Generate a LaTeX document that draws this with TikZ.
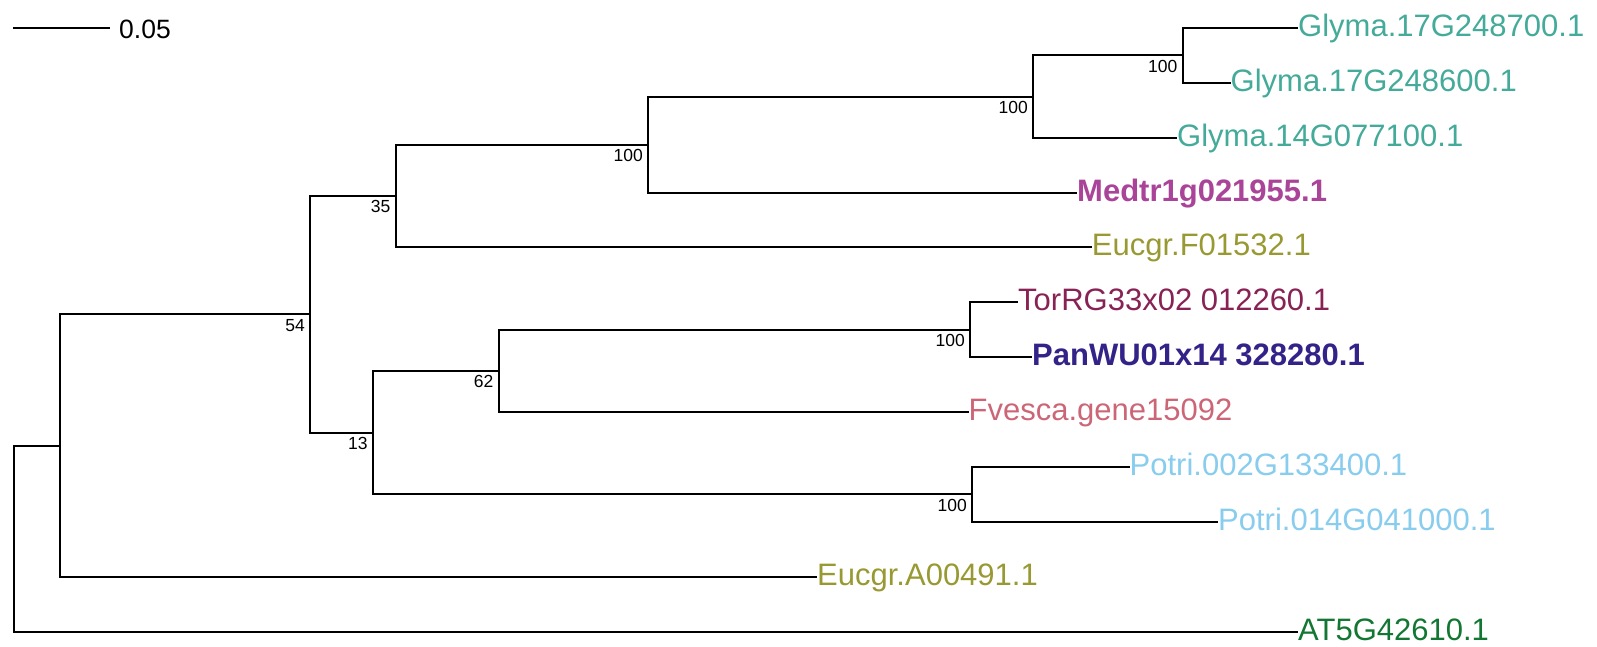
\documentclass[tikz,border=0pt]{standalone}
\usepackage{fontspec}
\setmainfont{Liberation Sans}
\definecolor{cteal}{HTML}{44AA99}
\definecolor{cpurple}{HTML}{AA4499}
\definecolor{colive}{HTML}{999933}
\definecolor{cwine}{HTML}{882255}
\definecolor{cindigo}{HTML}{332288}
\definecolor{crose}{HTML}{CC6677}
\definecolor{ccyan}{HTML}{88CCEE}
\definecolor{cgreen}{HTML}{117733}
\tikzset{
  branch/.style={line width=2pt, line join=miter},
  leaf/.style={anchor=base west, inner sep=0pt, yshift=-8.5pt, font=\fontsize{31}{31}\selectfont},
  boot/.style={anchor=north east, inner sep=0pt, xshift=-5pt, yshift=-4.5pt, font=\fontsize{17.5}{17.5}\selectfont},
}
\begin{document}
\begin{tikzpicture}[x=1pt,y=-1pt]
\useasboundingbox (0,0) rectangle (1597,647);
% internal nodes
\coordinate (R) at (14.3,538.5);
\coordinate (J) at (60,445.5);
\coordinate (I) at (310,314.3);
\coordinate (D) at (395.5,196);
\coordinate (C) at (648,144.6);
\coordinate (B) at (1033,96.6);
\coordinate (A) at (1182.5,55.4);
\coordinate (H) at (372.7,432.6);
\coordinate (F) at (498.5,370.9);
\coordinate (E) at (970,329.7);
\coordinate (G) at (972,494.3);
% leaf tips
\coordinate (t1) at (1298,28);
\coordinate (t2) at (1230.5,82.9);
\coordinate (t3) at (1177,137.7);
\coordinate (t4) at (1077,192.6);
\coordinate (t5) at (1091.7,247.4);
\coordinate (t6) at (1018,302.3);
\coordinate (t7) at (1032,357.2);
\coordinate (t8) at (968.5,412);
\coordinate (t9) at (1129.5,466.9);
\coordinate (t10) at (1218,521.7);
\coordinate (t11) at (817,576.6);
\coordinate (t12) at (1298,631.5);
% leaf labels
\node[leaf, text=cteal] (n1) at (t1) {Glyma.17G248700.1};
\node[leaf, text=cteal] (n2) at (t2) {Glyma.17G248600.1};
\node[leaf, text=cteal] (n3) at (t3) {Glyma.14G077100.1};
\node[leaf, text=cpurple, font=\fontsize{31}{31}\selectfont\bfseries] (n4) at (t4) {Medtr1g021955.1};
\node[leaf, text=colive] (n5) at (t5) {Eucgr.F01532.1};
\node[leaf, text=cwine] (n6) at (t6) {TorRG33x02 012260.1};
\node[leaf, text=cindigo, font=\fontsize{31}{31}\selectfont\bfseries] (n7) at (t7) {PanWU01x14 328280.1};
\node[leaf, text=crose] (n8) at (t8) {Fvesca.gene15092};
\node[leaf, text=ccyan] (n9) at (t9) {Potri.002G133400.1};
\node[leaf, text=ccyan] (n10) at (t10) {Potri.014G041000.1};
\node[leaf, text=colive] (n11) at (t11) {Eucgr.A00491.1};
\node[leaf, text=cgreen] (n12) at (t12) {AT5G42610.1};
% branches
\draw[branch] (R) |- (J);
\draw[branch] (R) |- (t12);
\draw[branch] (J) |- (I);
\draw[branch] (J) |- (t11);
\draw[branch] (I) |- (D);
\draw[branch] (I) |- (H);
\draw[branch] (D) |- (C);
\draw[branch] (D) |- (t5);
\draw[branch] (C) |- (B);
\draw[branch] (C) |- (t4);
\draw[branch] (B) |- (A);
\draw[branch] (B) |- (t3);
\draw[branch] (A) |- (t1);
\draw[branch] (A) |- (t2);
\draw[branch] (H) |- (F);
\draw[branch] (H) |- (G);
\draw[branch] (F) |- (E);
\draw[branch] (F) |- (t8);
\draw[branch] (E) |- (t6);
\draw[branch] (E) |- (t7);
\draw[branch] (G) |- (t9);
\draw[branch] (G) |- (t10);
% bootstrap values
\node[boot] (bA) at (A) {100};
\node[boot] (bB) at (B) {100};
\node[boot] (bC) at (C) {100};
\node[boot] (bD) at (D) {35};
\node[boot] (bE) at (E) {100};
\node[boot] (bF) at (F) {62};
\node[boot] (bG) at (G) {100};
\node[boot] (bH) at (H) {13};
\node[boot] (bI) at (I) {54};
% scale bar
\coordinate (s0) at (13.3,28);
\coordinate (s1) at (110.3,28);
\draw[branch] (s0) -- (s1);
\node[anchor=base west, inner sep=0pt, font=\fontsize{26.5}{26.5}\selectfont] (sl) at (119,38.7) {0.05};
\end{tikzpicture}
\end{document}
